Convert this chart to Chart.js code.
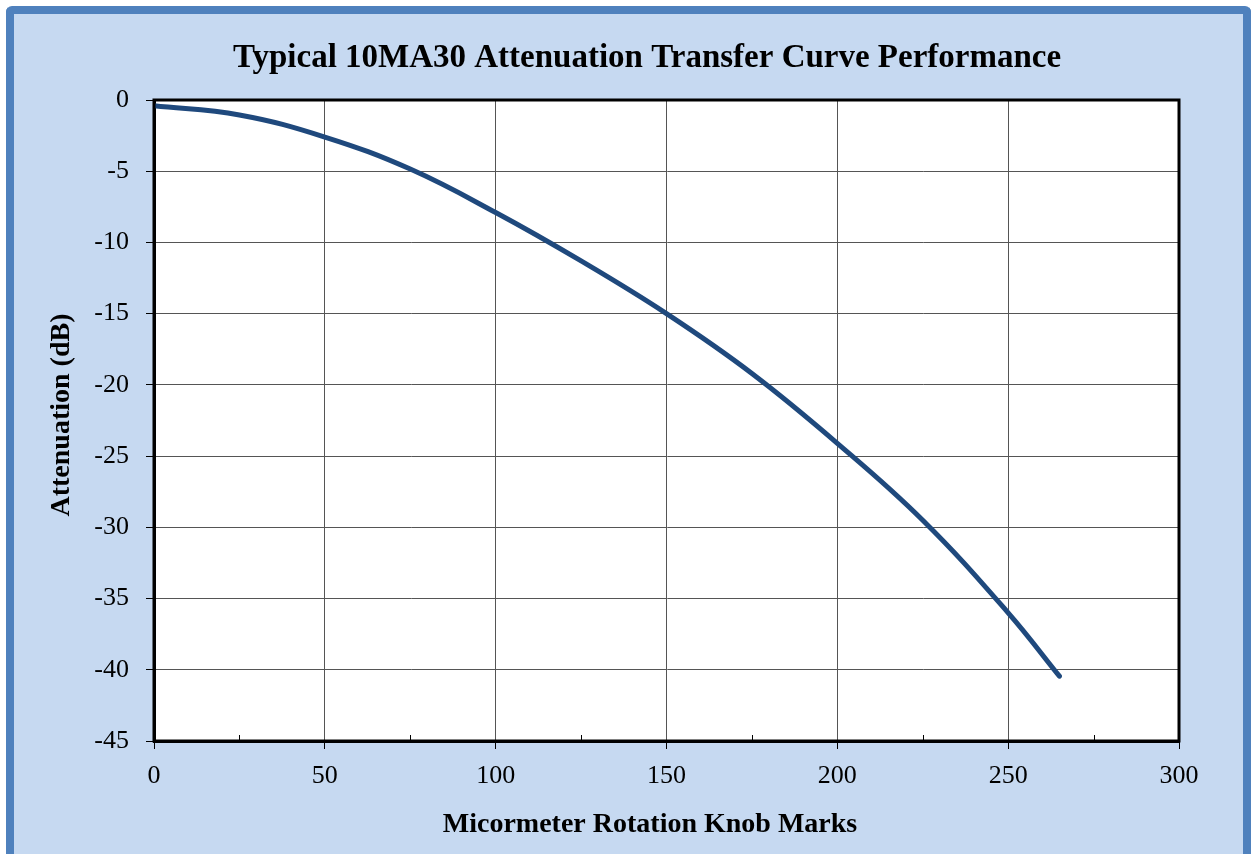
<!DOCTYPE html>
<html>
<head>
<meta charset="utf-8">
<script src="https://cdn.jsdelivr.net/npm/chart.js@4.4.0/dist/chart.umd.min.js"></script>
<style>
  html, body { margin: 0; padding: 0; background: #fff; overflow: hidden; }
  #frame {
    position: absolute; left: 6px; top: 6px; width: 1229px; height: 860px;
    background: #c6d9f1; border: 8px solid #4f81bd; border-bottom: none; border-radius: 6px;
  }
  #wrap { position: absolute; left: 0; top: 0; width: 1259px; height: 854px; }
</style>
</head>
<body>
<div id="frame"></div>
<div id="wrap"><canvas id="chart" width="1259" height="854"></canvas></div>
<script>
// 마이크로미터 눈금 vs 감쇠량
const knobMarks = [0, 25, 50, 75, 100, 125, 150, 175, 200, 225, 250, 265];
const attenuation = [-0.4, -1.05, -2.6, -4.85, -7.9, -11.3, -15.0, -19.2, -24.1, -29.5, -36.0, -40.45];
const minorXTicks = [25, 75, 125, 175, 225, 275];

const chartTitle = 'Typical 10MA30 Attenuation Transfer Curve Performance';
const xTitle = 'Micormeter Rotation Knob Marks';
const yTitle = 'Attenuation (dB)';

const serif = "'Liberation Serif', 'Times New Roman', serif";

// 플롯 영역 흰 배경 + 테두리, 보조 눈금, 제목들
const decor = {
    id: 'decor',
    beforeDraw(chart) {
        const { ctx, chartArea: a } = chart;
        ctx.save();
        ctx.fillStyle = '#ffffff';
        ctx.fillRect(a.left, a.top, a.right - a.left, a.bottom - a.top);
        ctx.restore();
    },
    afterDraw(chart) {
        const { ctx, chartArea: a, scales } = chart;
        ctx.save();
        // minor ticks (inside, bottom)
        ctx.strokeStyle = '#000';
        ctx.lineWidth = 1;
        minorXTicks.forEach(v => {
            const px = Math.round(scales.x.getPixelForValue(v)) + 0.5;
            ctx.beginPath();
            ctx.moveTo(px, a.bottom);
            ctx.lineTo(px, a.bottom - 6);
            ctx.stroke();
        });
        // plot frame
        ctx.lineWidth = 3;
        ctx.strokeRect(a.left, a.top, a.right - a.left, a.bottom - a.top);

        // titles
        ctx.fillStyle = '#000';
        ctx.textAlign = 'center';
        ctx.textBaseline = 'middle';
        ctx.font = `bold 33px ${serif}`;
        ctx.fillText(chartTitle, 647, 58);
        ctx.font = `bold 28px ${serif}`;
        ctx.fillText(xTitle, 650, 825);
        ctx.translate(62, 415);
        ctx.rotate(-Math.PI / 2);
        ctx.fillText(yTitle, 0, 0);
        ctx.restore();
    }
};

new Chart(document.getElementById('chart').getContext('2d'), {
    type: 'line',
    data: {
        labels: knobMarks,
        datasets: [{
            data: knobMarks.map((x, i) => ({ x: x, y: attenuation[i] })),
            borderColor: '#1f497d',
            borderWidth: 5,
            borderCapStyle: 'round',
            pointRadius: 0,
            tension: 0.4,
            fill: false
        }]
    },
    options: {
        responsive: false,
        animation: false,
        layout: { padding: { top: 100, right: 80, left: 0, bottom: 0 } },
        plugins: { legend: { display: false }, tooltip: { enabled: false }, title: { display: false } },
        scales: {
            x: {
                type: 'linear',
                min: 0, max: 300,
                afterFit: s => { s.height = 113; },
                ticks: { stepSize: 50, color: '#000', padding: 12, maxRotation: 0,
                         font: { family: serif, size: 26 } },
                grid: { color: '#555', lineWidth: 1, tickLength: 8, tickColor: '#000' },
                border: { color: '#000', width: 3 }
            },
            y: {
                min: -45, max: 0,
                afterFit: s => { s.width = 154; },
                ticks: { stepSize: 5, color: '#000', padding: 17,
                         font: { family: serif, size: 26 } },
                grid: { color: '#555', lineWidth: 1, tickLength: 8, tickColor: '#000' },
                border: { color: '#000', width: 3 }
            }
        }
    },
    plugins: [decor]
});
</script>
</body>
</html>
